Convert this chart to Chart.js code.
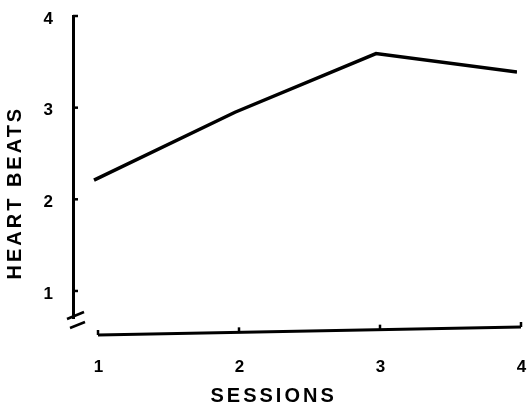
<!DOCTYPE html>
<html><head><meta charset="utf-8">
<script src="https://cdn.jsdelivr.net/npm/chart.js@4/dist/chart.umd.min.js"></script>
<style>html,body{margin:0;padding:0;background:#fff}canvas{display:block}</style>
</head><body>
<canvas id="c" width="528" height="406"></canvas>
<script>
const sessions = [1, 2, 3, 4];
const heartBeats = [2.21, 2.95, 3.59, 3.39];
const yTickValues = [1, 2, 3, 4];
const xTickValues = [1, 2, 3, 4];
const xTitle = 'SESSIONS';
const yTitle = 'HEART BEATS';

const NB = '\u00a0';
const FONT = '"Liberation Sans", Arial, sans-serif';

const decor = {
  id: 'decor',
  beforeDraw(chart) { chart.ctx.letterSpacing = '3px'; },
  afterDraw(chart) {
    const {ctx, chartArea: {left, bottom}, scales: {x, y}} = chart;
    ctx.save();
    ctx.letterSpacing = '0px';
    ctx.strokeStyle = '#000';
    ctx.lineCap = 'butt';
    ctx.lineWidth = 2.5;
    yTickValues.forEach(v => {
      const py = y.getPixelForValue(v);
      ctx.beginPath(); ctx.moveTo(left, py); ctx.lineTo(left + 5, py); ctx.stroke();
    });
    ctx.beginPath(); ctx.moveTo(left - 6, bottom + 1); ctx.lineTo(left + 11, bottom - 6); ctx.stroke();
    ctx.beginPath(); ctx.moveTo(left - 3, bottom + 10); ctx.lineTo(left + 12, bottom + 4); ctx.stroke();
    const x1 = x.getPixelForValue(xTickValues[0]) + 4;
    const x4 = x.getPixelForValue(xTickValues[xTickValues.length - 1]) + 4;
    const yAt = px => bottom + 17 - (px - x1) / (x4 - x1) * 8;
    ctx.lineWidth = 3;
    ctx.beginPath(); ctx.moveTo(x1, yAt(x1)); ctx.lineTo(x4, yAt(x4)); ctx.stroke();
    ctx.lineWidth = 2.5;
    xTickValues.forEach(v => {
      const px = x.getPixelForValue(v) + 4;
      ctx.beginPath(); ctx.moveTo(px, yAt(px)); ctx.lineTo(px, yAt(px) - 5); ctx.stroke();
    });
    ctx.restore();
  }
};

new Chart(document.getElementById('c'), {
  type: 'line',
  data: {
    datasets: [{
      data: sessions.map((s, i) => ({x: s, y: heartBeats[i]})),
      borderColor: '#000',
      borderWidth: 3.5,
      pointRadius: 0,
      tension: 0,
      fill: false
    }]
  },
  options: {
    responsive: false,
    animation: false,
    devicePixelRatio: 1,
    layout: {padding: {top: 16, right: 11, left: 0, bottom: 0}},
    plugins: {legend: {display: false}, tooltip: {enabled: false}},
    scales: {
      x: {
        type: 'linear', min: 0.851, max: 4,
        afterBuildTicks: s => { s.ticks = xTickValues.map(v => ({value: v})); },
        afterFit: s => { s.height = 88; s.paddingLeft = 0; s.paddingRight = 0; },
        grid: {display: false, drawTicks: false},
        border: {display: false},
        ticks: {color: '#000', font: {family: FONT, size: 17, weight: 'bold'}, padding: 39, labelOffset: 6,
                callback: v => String(v)},
        title: {display: true, text: xTitle + NB.repeat(5), color: '#000',
                font: {family: FONT, size: 20, weight: 'bold', lineHeight: 1}, padding: {top: 0, bottom: 0}}
      },
      y: {
        type: 'linear', min: 0.705, max: 4,
        afterBuildTicks: s => { s.ticks = yTickValues.map(v => ({value: v})); },
        afterFit: s => { s.width = 73; s.paddingTop = 0; s.paddingBottom = 0; },
        grid: {display: false, drawTicks: false},
        border: {display: true, color: '#000', width: 3},
        ticks: {color: '#000', font: {family: FONT, size: 17, weight: 'bold'}, padding: 17, labelOffset: 3,
                callback: v => String(v)},
        title: {display: true, text: yTitle + NB.repeat(6), color: '#000',
                font: {family: FONT, size: 20, weight: 'bold', lineHeight: 1}, padding: {top: 5, bottom: 0}}
      }
    }
  },
  plugins: [decor]
});
</script>
</body></html>
